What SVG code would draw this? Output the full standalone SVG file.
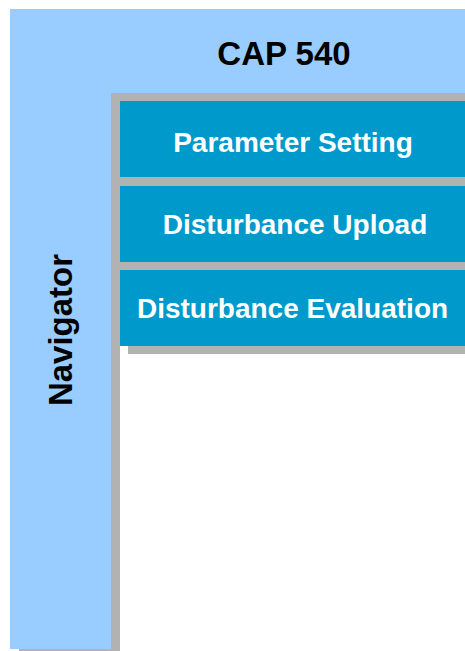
<svg xmlns="http://www.w3.org/2000/svg" width="465" height="651" viewBox="0 0 465 651">
<style>
.shadow{fill:#b2b2b2}
.nav{fill:#99ccff}
.box{fill:#0099cc}
.t{font-family:"Liberation Sans",Arial,sans-serif;font-weight:bold;text-anchor:middle}
.w{fill:#ffffff;font-size:28px}
.k{fill:#000000;font-size:33px}
</style>
<rect width="465" height="651" fill="#ffffff"/>
<g id="navigator">
<polygon class="shadow" points="19,18 465,18 465,101 120,101 120,651 19,651"/>
<polygon class="nav" points="10,9 465,9 465,93 111,93 111,649 10,649"/>
<text class="t k" x="284" y="65">CAP 540</text>
<text class="t k" transform="translate(72,330) rotate(-90)" x="0" y="0">Navigator</text>
</g>
<rect class="shadow" x="111" y="93" width="354" height="253"/>
<g id="parameter-setting">
<rect class="box" x="120" y="101" width="345" height="76"/>
<text class="t w" x="293" y="152">Parameter Setting</text>
</g>
<g id="disturbance-upload">
<rect class="box" x="120" y="186" width="345" height="76"/>
<text class="t w" x="295" y="234">Disturbance Upload</text>
</g>
<g id="disturbance-evaluation">
<rect class="shadow" x="128" y="278" width="337" height="76"/>
<rect class="box" x="120" y="270" width="345" height="76"/>
<text class="t w" x="292.5" y="318">Disturbance Evaluation</text>
</g>
<g id="connectors"/>
</svg>
